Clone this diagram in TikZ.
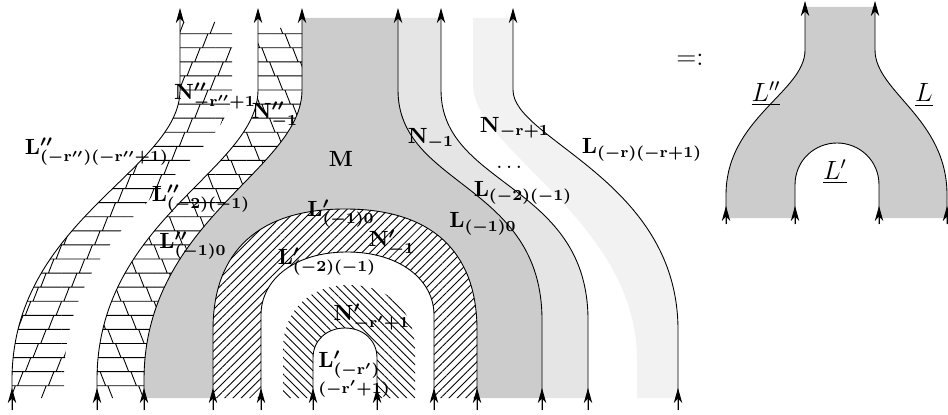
\documentclass[tikz,border=0pt]{standalone}
\usepackage{amsmath,amssymb}
\usepackage{tikz}
\usetikzlibrary{arrows.meta,patterns,patterns.meta}

\pgfdeclarepatternformonly{shingles right}{\pgfqpoint{-1pt}{-1pt}}{\pgfqpoint{15pt}{26.6pt}}{\pgfqpoint{14pt}{25.6pt}}{%
  \pgfsetlinewidth{0.4pt}%
  \pgfpathmoveto{\pgfqpoint{0pt}{0.5pt}}\pgfpathlineto{\pgfqpoint{14pt}{0.5pt}}%
  \pgfpathmoveto{\pgfqpoint{0pt}{6.9pt}}\pgfpathlineto{\pgfqpoint{14pt}{6.9pt}}%
  \pgfpathmoveto{\pgfqpoint{0pt}{13.3pt}}\pgfpathlineto{\pgfqpoint{14pt}{13.3pt}}%
  \pgfpathmoveto{\pgfqpoint{0pt}{19.7pt}}\pgfpathlineto{\pgfqpoint{14pt}{19.7pt}}%
  \pgfpathmoveto{\pgfqpoint{1pt}{0.5pt}}\pgfpathlineto{\pgfqpoint{3.5pt}{6.9pt}}%
  \pgfpathmoveto{\pgfqpoint{4.5pt}{6.9pt}}\pgfpathlineto{\pgfqpoint{7pt}{13.3pt}}%
  \pgfpathmoveto{\pgfqpoint{8pt}{13.3pt}}\pgfpathlineto{\pgfqpoint{10.5pt}{19.7pt}}%
  \pgfpathmoveto{\pgfqpoint{11.5pt}{19.7pt}}\pgfpathlineto{\pgfqpoint{14pt}{26.1pt}}%
  \pgfusepath{stroke}}
\pgfdeclarepatternformonly{shingles left}{\pgfqpoint{-1pt}{-1pt}}{\pgfqpoint{15pt}{26.6pt}}{\pgfqpoint{14pt}{25.6pt}}{%
  \pgfsetlinewidth{0.4pt}%
  \pgfpathmoveto{\pgfqpoint{0pt}{0.5pt}}\pgfpathlineto{\pgfqpoint{14pt}{0.5pt}}%
  \pgfpathmoveto{\pgfqpoint{0pt}{6.9pt}}\pgfpathlineto{\pgfqpoint{14pt}{6.9pt}}%
  \pgfpathmoveto{\pgfqpoint{0pt}{13.3pt}}\pgfpathlineto{\pgfqpoint{14pt}{13.3pt}}%
  \pgfpathmoveto{\pgfqpoint{0pt}{19.7pt}}\pgfpathlineto{\pgfqpoint{14pt}{19.7pt}}%
  \pgfpathmoveto{\pgfqpoint{13pt}{0.5pt}}\pgfpathlineto{\pgfqpoint{10.5pt}{6.9pt}}%
  \pgfpathmoveto{\pgfqpoint{9.5pt}{6.9pt}}\pgfpathlineto{\pgfqpoint{7pt}{13.3pt}}%
  \pgfpathmoveto{\pgfqpoint{6pt}{13.3pt}}\pgfpathlineto{\pgfqpoint{3.5pt}{19.7pt}}%
  \pgfpathmoveto{\pgfqpoint{2.5pt}{19.7pt}}\pgfpathlineto{\pgfqpoint{0pt}{26.1pt}}%
  \pgfusepath{stroke}}

\begin{document}
\begin{tikzpicture}[
    x=0.4545pt,
    y=-0.4545pt,
    strand/.style={thin, -{Stealth[length=6.8pt, width=3.8pt, inset=2pt]}},
    leg/.style={thin},
    lab/.style={font=\boldmath, inner sep=0pt},
    ulab/.style={font=\large, inner sep=0pt},
    hatchup/.style={pattern={Lines[angle=45, distance=2.67pt, line width=0.4pt]}},
    hatchdown/.style={pattern={Lines[angle=-45, distance=2.67pt, line width=0.4pt]}}
]
  \useasboundingbox (0,0) rectangle (948,415);

  \fill[gray!10] (473,18) -- (513,18) -- (513,90) .. controls (513,140) and (678,180) .. (678,330) -- (678,398) -- (637,398) -- (637,360) .. controls (637,220) and (473,150) .. (473,85) -- cycle;
  \fill[gray!20] (398,18) -- (441,18) -- (441,90) .. controls (441,187) and (588,183) .. (588,320) -- (588,398) -- (542,398) -- (542,320) .. controls (542,183) and (398,187) .. (398,90) -- cycle;
  \fill[gray!40] (144,398) -- (144,380) .. controls (144,220) and (302,170) .. (302,90) -- (302,18) -- (398,18) -- (398,90) .. controls (398,187) and (542,183) .. (542,320) -- (542,398) -- (477,398) -- (477,330) .. controls (477,250) and (430,209) .. (345,209) .. controls (260,209) and (213,250) .. (213,330) -- (213,398) -- cycle;
  \fill[pattern=shingles right] (12,398) -- (12,380) .. controls (12,220) and (180,170) .. (180,90) -- (180,22) -- (232,22) -- (232,90) .. controls (232,165) and (64,215) .. (64,380) -- (64,398) -- cycle;
  \fill[pattern=shingles left] (97,398) -- (97,380) .. controls (97,220) and (258,170) .. (258,90) -- (258,28) -- (302,28) -- (302,90) .. controls (302,170) and (144,220) .. (144,380) -- (144,398) -- cycle;
  \fill[hatchup] (213,398) -- (213,330) .. controls (213,250) and (260,209) .. (345,209) .. controls (430,209) and (477,250) .. (477,330) -- (477,398) -- (434,398) -- (434,315) .. controls (434,280) and (400,252) .. (347,252) .. controls (294,252) and (261,280) .. (261,315) -- (261,398) -- cycle;
  \fill[hatchdown] (283,398) -- (283,350) .. controls (283,310) and (310,285) .. (349,285) .. controls (388,285) and (415,310) .. (415,350) -- (415,398) -- (377,398) -- (377,358) .. controls (377,340) and (363,328) .. (345,328) .. controls (327,328) and (313,340) .. (313,358) -- (313,398) -- cycle;
  \fill[gray!40] (726,218) -- (726,195) .. controls (726,118) and (805,92) .. (805,50) -- (805,7) -- (875,7) -- (875,50) .. controls (875,92) and (947,118) .. (947,195) -- (947,218) -- (879,218) -- (879,185) .. controls (879,160) and (859,143) .. (837,143) .. controls (815,143) and (795,160) .. (795,185) -- (795,218) -- cycle;

  \draw[strand] (12,410) -- (12,380) .. controls (12,220) and (180,170) .. (180,90) -- (180,8);
  \draw[strand] (97,410) -- (97,380) .. controls (97,220) and (258,170) .. (258,90) -- (258,8);
  \draw[strand] (144,410) -- (144,380) .. controls (144,220) and (302,170) .. (302,90) -- (302,8);
  \draw[strand] (542,410) -- (542,320) .. controls (542,183) and (398,187) .. (398,90) -- (398,8);
  \draw[strand] (588,410) -- (588,320) .. controls (588,183) and (441,187) .. (441,90) -- (441,8);
  \draw[strand] (678,410) -- (678,330) .. controls (678,180) and (513,140) .. (513,90) -- (513,8);
  \draw[leg] (213,410) -- (213,330) .. controls (213,250) and (260,209) .. (345,209) .. controls (430,209) and (477,250) .. (477,330) -- (477,410);
  \draw[leg] (261,410) -- (261,315) .. controls (261,280) and (294,252) .. (347,252) .. controls (400,252) and (434,280) .. (434,315) -- (434,410);
  \draw[leg] (313,410) -- (313,358) .. controls (313,340) and (327,328) .. (345,328) .. controls (363,328) and (377,340) .. (377,358) -- (377,410);

  \draw[strand] (12,410) -- (12,388);
  \draw[strand] (97,410) -- (97,388);
  \draw[strand] (144,410) -- (144,388);
  \draw[strand] (213,410) -- (213,388);
  \draw[strand] (261,410) -- (261,388);
  \draw[strand] (313,410) -- (313,388);
  \draw[strand] (377,410) -- (377,388);
  \draw[strand] (434,410) -- (434,388);
  \draw[strand] (477,410) -- (477,388);
  \draw[strand] (542,410) -- (542,388);
  \draw[strand] (588,410) -- (588,388);
  \draw[strand] (678,410) -- (678,388);

  \draw[strand] (726,224) -- (726,195) .. controls (726,118) and (805,92) .. (805,50) -- (805,1);
  \draw[strand] (947,224) -- (947,195) .. controls (947,118) and (875,92) .. (875,50) -- (875,1);
  \draw[leg] (795,224) -- (795,185) .. controls (795,160) and (815,143) .. (837,143) .. controls (859,143) and (879,160) .. (879,185) -- (879,224);
  \draw[strand] (726,224) -- (726,206);
  \draw[strand] (795,224) -- (795,206);
  \draw[strand] (879,224) -- (879,206);
  \draw[strand] (947,224) -- (947,206);

  \node[lab] (Lrr) at (97,152) {$\mathbf{L''_{(-r'')(-r''+1)}}$};
  \node[lab] (Nrr) at (215,96) {$\mathbf{N''_{-r''+1}}$};
  \node[lab] (Npp1) at (275,115) {$\mathbf{N''_{-1}}$};
  \node[lab] (Lpp21) at (201,199) {$\mathbf{L''_{(-2)(-1)}}$};
  \node[lab] (Lpp10) at (193,246) {$\mathbf{L''_{(-1)0}}$};
  \node[lab] (M) at (341,159) {$\mathbf{M}$};
  \node[lab] (N1) at (431,139) {$\mathbf{N_{-1}}$};
  \node[lab] (Nr) at (515,128) {$\mathbf{N_{-r+1}}$};
  \node[inner sep=0pt] (dots) at (511,167) {$\dots$};
  \node[lab] (L21) at (523,193) {$\mathbf{L_{(-2)(-1)}}$};
  \node[lab] (Lr) at (642,150) {$\mathbf{L_{(-r)(-r+1)}}$};
  \node[lab] (L10) at (483,224) {$\mathbf{L_{(-1)0}}$};
  \node[lab] (Lp10) at (341,214) {$\mathbf{L'_{(-1)0}}$};
  \node[lab] (Np1) at (392,243) {$\mathbf{N'_{-1}}$};
  \node[lab] (Lp21) at (327,262) {$\mathbf{L'_{(-2)(-1)}}$};
  \node[lab] (Npr) at (372,317) {$\mathbf{N'_{-r'+1}}$};
  \node[lab, align=left] (Lpr) at (354,374) {$\mathbf{L'_{(-r')}}$\\$\scriptstyle\mathbf{(-r'+1)}$};

  \node[ulab] (eq) at (690,60) {$=:$};
  \node[ulab] (RLpp) at (766,94) {$\underline{L''}$};
  \node[ulab] (RL) at (924,95) {$\underline{L}$};
  \node[ulab] (RLp) at (835,172) {$\underline{L'}$};
\end{tikzpicture}
\end{document}
